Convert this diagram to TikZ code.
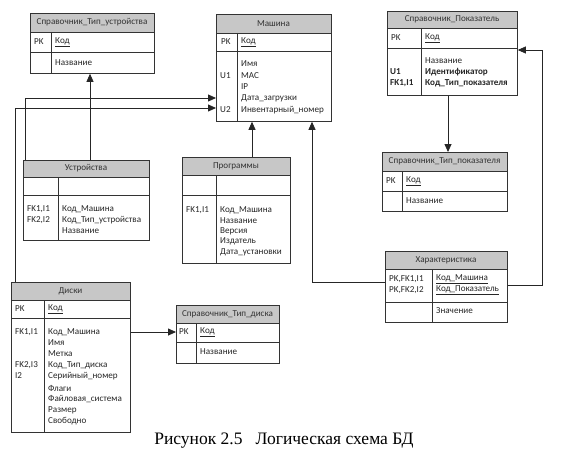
\documentclass[tikz,border=0pt]{standalone}
\usepackage{fontspec}
\setmainfont{Carlito}
\newfontfamily\capfont{Liberation Serif}
\usetikzlibrary{arrows.meta}

\tikzset{
 tbox/.style={draw=black!80, line width=0.8pt, inner sep=0pt, anchor=north west},
 hdr/.style={fill=black!22},
 sep/.style={draw=black!80, line width=0.8pt},
 ttl/.style={font=\fontsize{9.1}{10}\selectfont, text=black!80, inner sep=0pt},
 fld/.style={font=\fontsize{9.1}{10}\selectfont, text=black!85, anchor=west, inner sep=0pt},
 bfld/.style={fld, font=\fontsize{9.1}{10}\selectfont\bfseries},
 conn/.style={draw=black!85, line width=0.8pt, -{Triangle[length=8pt,width=7pt]}},
}

\newcommand\ertab[9]{%
 \pgfmathsetmacro\tw{#4-#2}\pgfmathsetmacro\th{#7-#3}%
 \fill[hdr] (#2,#3) rectangle (#4,#5);
 \node[tbox, minimum width=\tw pt, minimum height=\th pt] (#1) at (#2,#3) {};
 \draw[sep] (#2,#5) -- (#4,#5) (#2,#6) -- (#4,#6) (#8,#5) -- (#8,#7);
 \node[ttl] (#1-t) at ({(#2+#4)/2},{(#3+#5)/2}) {#9};
}

\begin{document}
\begin{tikzpicture}[x=1pt,y=-1pt]
\fill[white] (0,0) rectangle (564,460);
\useasboundingbox (0,0) rectangle (564,460);

% Справочник_Тип_устройства
\ertab{tu}{30}{13}{154}{32}{52}{73}{51}{Справочник\_Тип\_устройства}
\node[fld] (tu-k1) at (34,42) {PK};
\node[fld] (tu-f1) at (55,42) {\underline{Код}};
\node[fld] (tu-f2) at (55,63) {Название};

% Машина
\ertab{mash}{216}{14}{331}{33}{51}{121}{237}{Машина}
\node[fld] (mash-k1) at (221,42) {PK};
\node[fld] (mash-f1) at (241,42) {\underline{Код}};
\node[fld] (mash-f2) at (241,64) {Имя};
\node[fld] (mash-f3) at (241,75.5) {MAC};
\node[fld] (mash-f4) at (241,87) {IP};
\node[fld] (mash-f5) at (241,98.5) {Дата\_загрузки};
\node[fld] (mash-f6) at (241,110) {Инвентарный\_номер};
\node[fld] (mash-k2) at (220,75.5) {U1};
\node[fld] (mash-k3) at (220,110) {U2};

% Справочник_Показатель
\ertab{pok}{387}{11}{517}{28}{48}{95}{421}{Справочник\_Показатель}
\node[fld] (pok-k1) at (391,38) {PK};
\node[fld] (pok-f1) at (425,38) {\underline{Код}};
\node[fld] (pok-f2) at (425,61) {Название};
\node[bfld] (pok-f3) at (425,72) {Идентификатор};
\node[bfld] (pok-f4) at (425,83) {Код\_Тип\_показателя};
\node[bfld] (pok-k2) at (390,72) {U1};
\node[bfld] (pok-k3) at (390,83) {FK1,I1};

% Справочник_Тип_показателя
\ertab{tp}{382}{152}{507}{171}{191}{211}{402}{Справочник\_Тип\_показателя}
\node[fld] (tp-k1) at (386,181) {PK};
\node[fld] (tp-f1) at (406,181) {\underline{Код}};
\node[fld] (tp-f2) at (406,201) {Название};

% Устройства
\ertab{ustr}{23}{160}{149}{177}{195}{240}{58}{Устройства}
\node[fld] (ustr-k1) at (27,209) {FK1,I1};
\node[fld] (ustr-k2) at (27,220) {FK2,I2};
\node[fld] (ustr-f1) at (62,209) {Код\_Машина};
\node[fld] (ustr-f2) at (62,220) {Код\_Тип\_устройства};
\node[fld] (ustr-f3) at (62,231) {Название};

% Программы
\ertab{prog}{182}{157}{290}{175}{195}{263}{216}{Программы}
\node[fld] (prog-k1) at (186,210) {FK1,I1};
\node[fld] (prog-f1) at (220,210) {Код\_Машина};
\node[fld] (prog-f2) at (220,220.5) {Название};
\node[fld] (prog-f3) at (220,231) {Версия};
\node[fld] (prog-f4) at (220,241.5) {Издатель};
\node[fld] (prog-f5) at (220,252) {Дата\_установки};

% Характеристика
\ertab{har}{385}{251}{507}{269}{302}{322}{432}{Характеристика}
\node[fld] (har-k1) at (389,279) {PK,FK1,I1};
\node[fld] (har-k2) at (389,290) {PK,FK2,I2};
\node[fld] (har-f1) at (436,279) {\underline{Код\_Машина}};
\node[fld] (har-f2) at (436,290) {\underline{Код\_Показатель}};
\node[fld] (har-f3) at (436,311) {Значение};

% Диски
\ertab{disk}{11}{282}{130}{300}{318}{432}{44}{Диски}
\node[fld] (disk-k1) at (15,309) {PK};
\node[fld] (disk-f0) at (48,309) {\underline{Код}};
\node[fld] (disk-k2) at (15,332) {FK1,I1};
\node[fld] (disk-k3) at (15,365) {FK2,I3};
\node[fld] (disk-k4) at (15,376) {I2};
\node[fld] (disk-f1) at (48,332) {Код\_Машина};
\node[fld] (disk-f2) at (48,343) {Имя};
\node[fld] (disk-f3) at (48,354) {Метка};
\node[fld] (disk-f4) at (48,365) {Код\_Тип\_диска};
\node[fld] (disk-f5) at (48,376) {Серийный\_номер};
\node[fld] (disk-f6) at (48,388) {Флаги};
\node[fld] (disk-f7) at (48,399) {Файловая\_система};
\node[fld] (disk-f8) at (48,410) {Размер};
\node[fld] (disk-f9) at (48,421) {Свободно};

% Справочник_Тип_диска
\ertab{td}{176}{305}{279}{323}{342}{363}{196}{Справочник\_Тип\_диска}
\node[fld] (td-k1) at (179,332) {PK};
\node[fld] (td-f1) at (200,332) {\underline{Код}};
\node[fld] (td-f2) at (200,352) {Название};

% connectors
\draw[conn] (ustr.north -| 90,0) -- (tu.south -| 90,0);
\draw[conn] (ustr.north -| 25,0) |- (mash.west |- 0,98);
\draw[conn] (disk.north -| 15,0) |- (mash.west |- 0,108);
\draw[conn] (prog.north -| 252,0) -- (mash.south -| 252,0);
\draw[conn] (har.west |- 0,282) -| (mash.south -| 312,0);
\draw[conn] (pok.south -| 448,0) -- (tp.north -| 448,0);
\coordinate (bend) at (542,50);
\draw[conn] (har.east |- 0,285) -| (bend) -- (pok.east |- bend);
\draw[conn] (disk.east |- 0,332) -- (td.west |- 0,332);

% caption
\node[font=\capfont\fontsize{17.5}{20}\selectfont, inner sep=0pt] (cap) at (284,441) {Рисунок 2.5\hspace{0.75em}Логическая схема БД};
\end{tikzpicture}
\end{document}
